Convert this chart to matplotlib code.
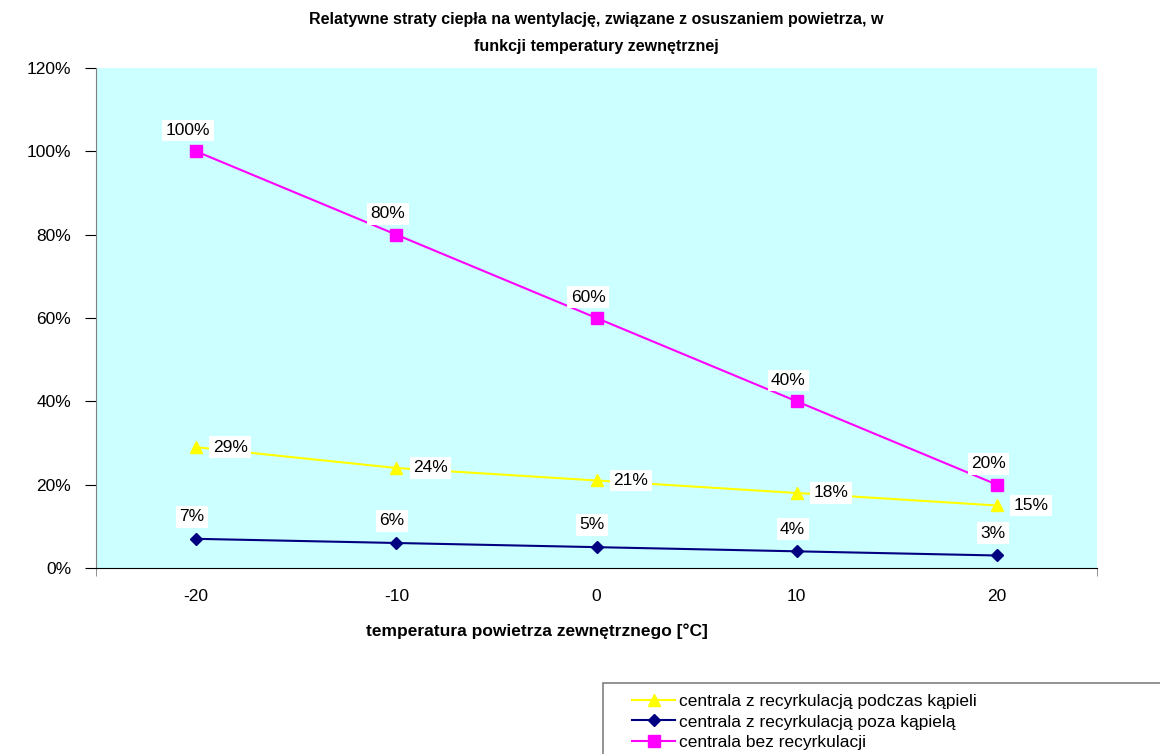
import matplotlib
matplotlib.use('Agg')
import matplotlib.pyplot as plt
from matplotlib.patches import Rectangle
from matplotlib.ticker import FuncFormatter

plt.rcParams['font.family'] = ['Liberation Sans', 'DejaVu Sans']
plt.rcParams['axes.unicode_minus'] = False

# data
temps = [-20, -10, 0, 10, 20]
podczas_kapieli = [29, 24, 21, 18, 15]
poza_kapiela = [7, 6, 5, 4, 3]
bez_recyrkulacji = [100, 80, 60, 40, 20]

labels = ['centrala z recyrkulacją podczas kąpieli',
          'centrala z recyrkulacją poza kąpielą',
          'centrala bez recyrkulacji']

fig = plt.figure(figsize=(11.6, 7.54), dpi=100)
ax = fig.add_axes([0.0828, 0.2467, 0.8629, 0.6631])
ax.set_facecolor('#CCFFFF')

l1, = ax.plot(temps, podczas_kapieli, color='#FFFF00', marker='^', markersize=9, lw=1.5)
l2, = ax.plot(temps, poza_kapiela, color='#000080', marker='D', markersize=6.5, lw=1.5)
l3, = ax.plot(temps, bez_recyrkulacji, color='#FF00FF', marker='s', markersize=8, lw=1.5)

box = dict(facecolor='white', edgecolor='none', pad=2.5)
for x, y in zip(temps, bez_recyrkulacji):
    ax.annotate('%d%%' % y, (x, y), xytext=(-6, 15), textcoords='offset points',
                ha='center', va='center', fontsize=12.5, bbox=box)
for x, y in zip(temps, podczas_kapieli):
    ax.annotate('%d%%' % y, (x, y), xytext=(12, 0), textcoords='offset points',
                ha='left', va='center', fontsize=12.5, bbox=box)
for x, y in zip(temps, poza_kapiela):
    ax.annotate('%d%%' % y, (x, y), xytext=(-3, 16), textcoords='offset points',
                ha='center', va='center', fontsize=12.5, bbox=box)

ax.set_xlim(-25, 25)
ax.set_ylim(0, 120)
ax.set_xticks(temps)
ax.set_xticks([-25, 25], minor=True)
ax.tick_params(axis='x', which='major', length=0, pad=15, labelsize=12.5)
ax.tick_params(axis='x', which='minor', length=6, color='gray')
ax.set_yticks(range(0, 121, 20))
ax.yaxis.set_major_formatter(FuncFormatter(lambda v, p: '%d%%' % v))
ax.tick_params(axis='y', length=8, labelsize=12.5, pad=10)

ax.spines['top'].set_visible(False)
ax.spines['right'].set_visible(False)
ax.spines['left'].set_color('gray')
ax.spines['bottom'].set_color('black')

ax.set_title('Relatywne straty ciepła na wentylację, związane z osuszaniem powietrza, w\n'
             'funkcji temperatury zewnętrznej', fontsize=11.5, fontweight='bold', pad=12,
             linespacing=2.0)
ax.set_xlabel('temperatura powietrza zewnętrznego [°C]', fontsize=12.5, fontweight='bold')
ax.xaxis.set_label_coords(0.44, -0.11)

# legend frame runs off the right and bottom edge like in the original
fig.patches.append(Rectangle((603 / 1160, -0.05), 0.6, 0.05 + 71 / 754,
                             transform=fig.transFigure, facecolor='white',
                             edgecolor='gray', lw=1.2, zorder=0))
leg = fig.legend([l1, l2, l3], labels, loc='upper left',
                 bbox_to_anchor=(632 / 1160, 1 - 694 / 754),
                 fontsize=12.5, frameon=False, handlelength=2.5,
                 borderpad=0.0, labelspacing=0.3, handletextpad=0.2, borderaxespad=0)

fig.savefig('out.png', dpi=100)
